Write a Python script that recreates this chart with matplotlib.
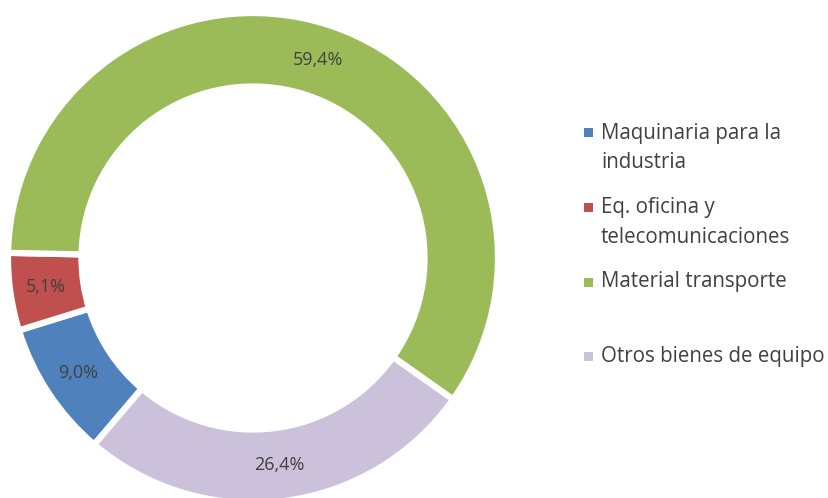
import matplotlib
matplotlib.use("Agg")
import matplotlib.pyplot as plt
from matplotlib.patches import Rectangle
import numpy as np

categories = ["Maquinaria para la\nindustria", "Eq. oficina y\ntelecomunicaciones",
              "Material transporte", "Otros bienes de equipo"]
values = [9.0, 5.1, 59.4, 26.4]
colors = ["#4F81BD", "#C0504D", "#9BBB59", "#CCC1DA"]

plt.rcParams['font.family'] = ['Open Sans', 'DejaVu Sans']
text_color = "#404040"

W, H = 829, 498
fig = plt.figure(figsize=(W / 100, H / 100), dpi=100)
R_px = 245
cx, cy = 253, 498 - 258
ax = fig.add_axes([(cx - R_px) / W, (cy - R_px) / H, 2 * R_px / W, 2 * R_px / H])

wedges, _ = ax.pie(values, colors=colors, startangle=229.6, counterclock=False,
                   radius=1.0, wedgeprops=dict(width=0.30, edgecolor="white", linewidth=4.5))
ax.set_aspect("equal")
ax.set_xlim(-1, 1)
ax.set_ylim(-1, 1)
ax.axis("off")

lab_r = 0.853
for w, v in zip(wedges, values):
    ang = np.deg2rad((w.theta1 + w.theta2) / 2)
    ax.text(lab_r * np.cos(ang), lab_r * np.sin(ang), f"{v:.1f}".replace(".", ",") + "%",
            ha="center", va="center", fontsize=13, color=text_color)

# legend
sq_x = 584
sq = 9
ys = [133, 208, 282, 356]
for lab, col, y in zip(categories, colors, ys):
    fig.patches.append(Rectangle((sq_x / W, (H - y - sq / 2) / H), sq / W, sq / H,
                                 transform=fig.transFigure, facecolor=col, edgecolor="none"))
    for i, ln in enumerate(lab.split("\n")):
        fig.text(601 / W, (H - (y + i * 29)) / H, ln, ha="left", va="center",
                 fontsize=14.8, color=text_color)

fig.savefig("out.png", dpi=100)
